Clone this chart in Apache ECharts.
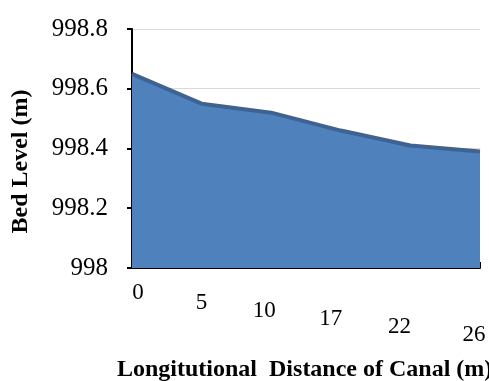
<!DOCTYPE html>
<html>
<head>
<meta charset="utf-8">
<script src="https://cdn.jsdelivr.net/npm/echarts@6/dist/echarts.min.js"></script>
<style>
  html, body { margin: 0; padding: 0; background: #fff; }
  #chart { width: 489px; height: 381px; }
</style>
</head>
<body>
<div id="chart"></div>
<script>
// distances along the canal (m)
var distances = ['0', '5', '10', '17', '22', '26'];
// bed level (m)
var bedLevel = [998.65, 998.55, 998.52, 998.46, 998.41, 998.39];
var yMin = 998, yMax = 998.8, yStep = 0.2;

// labels drop down to the right, like the tilted floor of the original
var labelDrop = [0, 10, 18, 26, 34, 42];
var labelShift = [6, 0, -7, -10, -11, -6];
var richLabels = {};
labelDrop.forEach(function (d, i) {
  var s = labelShift[i];
  richLabels['s' + i] = {
    fontFamily: 'Liberation Serif',
    fontSize: 23,
    color: '#000',
    padding: [d, s < 0 ? -2 * s : 0, 0, s > 0 ? 2 * s : 0]
  };
});

var chart = echarts.init(document.getElementById('chart'), null, { renderer: 'canvas' });

var option = {
  animation: false,
  title: {
    text: 'Longitutional  Distance of Canal (m)',
    left: 112,
    top: 353,
    textStyle: {
      fontFamily: 'Liberation Serif',
      fontWeight: 'bold',
      fontSize: 24,
      color: '#000'
    }
  },
  grid: {
    left: 132,
    right: 9,
    top: 29,
    bottom: 113
  },
  xAxis: {
    type: 'category',
    boundaryGap: false,
    data: distances,
    axisLine: { lineStyle: { color: '#000', width: 2 } },
    axisTick: { inside: true, length: 6, lineStyle: { color: '#000', width: 2 } },
    axisLabel: {
      margin: 13,
      formatter: function (v, i) { return '{s' + i + '|' + v + '}'; },
      rich: richLabels
    },
    splitLine: { show: false }
  },
  yAxis: {
    type: 'value',
    min: yMin,
    max: yMax,
    interval: yStep,
    name: 'Bed Level (m)',
    nameLocation: 'middle',
    nameGap: 99,
    nameTextStyle: {
      fontFamily: 'Liberation Serif',
      fontWeight: 'bold',
      fontSize: 24,
      color: '#000',
      padding: [0, 26, 0, 0]
    },
    axisLine: { show: true, lineStyle: { color: '#000', width: 2 } },
    axisTick: { show: true, length: 5, lineStyle: { color: '#000', width: 2 } },
    axisLabel: {
      margin: 24,
      fontFamily: 'Liberation Serif',
      fontSize: 25,
      color: '#000'
    },
    splitLine: { lineStyle: { color: '#d9d9d9', width: 1 } }
  },
  series: [
    {
      name: 'Bed Level',
      type: 'line',
      data: bedLevel,
      symbol: 'none',
      lineStyle: { color: '#3b6395', width: 4 },
      areaStyle: { color: '#4f81bd', opacity: 1 },
      z: 3
    }
  ]
};

chart.setOption(option);
</script>
</body>
</html>
